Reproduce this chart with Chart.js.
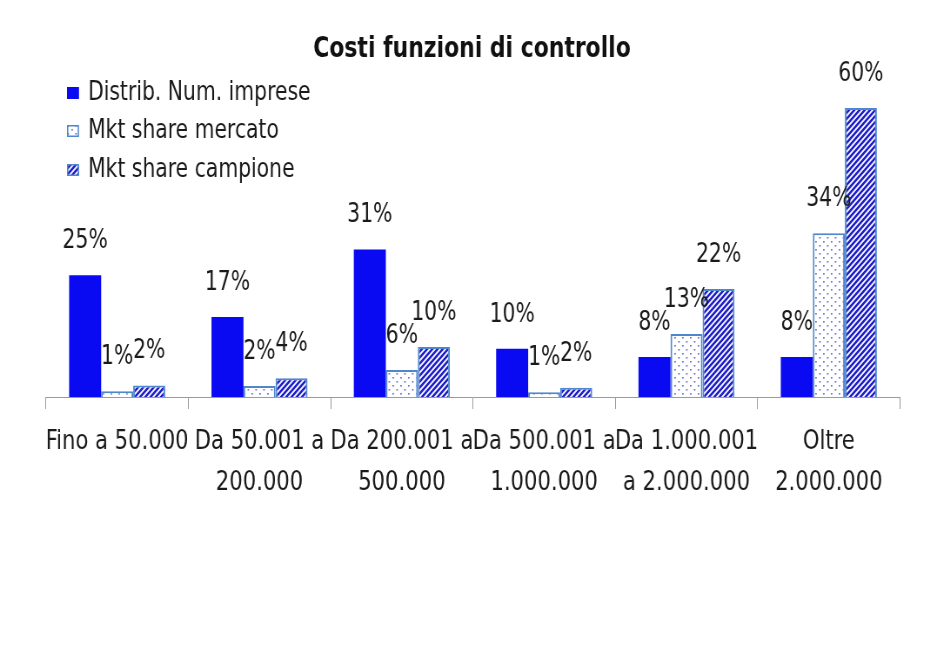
<!DOCTYPE html>
<html><head><meta charset="utf-8">
<script src="https://cdn.jsdelivr.net/npm/chart.js@4.4.1/dist/chart.umd.min.js"></script>
<style>html,body{margin:0;padding:0;background:#fff;overflow:hidden;}#wrap{width:944px;height:647px;position:relative;overflow:hidden;}
#c{position:absolute;left:0;top:0;transform:scaleX(0.87);transform-origin:0 0;}</style>
</head><body><div id="wrap"><canvas id="c" width="1085" height="647"></canvas></div>
<script>
const categories = [["Fino a 50.000"],["Da 50.001 a","200.000"],["Da 200.001 a","500.000"],["Da 500.001 a","1.000.000"],["Da 1.000.001","a 2.000.000"],["Oltre","2.000.000"]];
const seriesNames = ["Distrib. Num. imprese","Mkt share mercato","Mkt share campione"];
const distribImprese = [25.3, 16.6, 30.6, 10.0, 8.3, 8.3];
const shareMercato = [1.2, 2.3, 5.6, 1.0, 13.1, 34.0];
const shareCampione = [2.4, 3.9, 10.4, 1.9, 22.4, 60.0];
const valueLabels = [["25%","17%","31%","10%","8%","8%"],["1%","2%","6%","1%","13%","34%"],["2%","4%","10%","2%","22%","60%"]];
const yTicks = [0, 60];

const K = 0.87; // horizontal condensing of the drawing (narrow font look)
const FONT = "'DejaVu Sans Condensed','DejaVu Sans',sans-serif";

function dotPattern(){
  const c=document.createElement('canvas');c.width=9;c.height=8;const x=c.getContext('2d');
  x.fillStyle='#ffffff';x.fillRect(0,0,9,8);
  x.fillStyle='#7070dd';
  x.fillRect(1,1,1.8,1.6);x.fillRect(5.5,5,1.8,1.6);
  return x.createPattern(c,'repeat');
}
function stripePattern(){
  const s=6;const c=document.createElement('canvas');c.width=s;c.height=s;const x=c.getContext('2d');
  x.fillStyle='#ffffff';x.fillRect(0,0,s,s);
  x.strokeStyle='#2020cc';x.lineWidth=2.5;
  x.beginPath();
  x.moveTo(-s,s*2);x.lineTo(s*2,-s);
  x.moveTo(-s,s);x.lineTo(s,-s);
  x.moveTo(0,s*2);x.lineTo(s*2,0);
  x.stroke();
  return x.createPattern(c,'repeat');
}
const fills=['#0a0af2',dotPattern(),stripePattern()];
const borders=['#0a0af2','#4f86cc','#4f86cc'];

const overlay={
  id:'overlay',
  afterDatasetsDraw(chart){
    const ctx=chart.ctx;ctx.save();
    ctx.fillStyle='#1a1a1a';ctx.textAlign='center';ctx.textBaseline='middle';
    ctx.font="26px "+FONT;
    chart.data.datasets.forEach((ds,i)=>{
      chart.getDatasetMeta(i).data.forEach((bar,j)=>{
        ctx.fillText(valueLabels[i][j],bar.x,bar.y-34);
      });
    });
    ctx.restore();
  },
  afterDraw(chart){
    const ctx=chart.ctx;ctx.save();
    ctx.fillStyle='#111';ctx.textAlign='center';ctx.textBaseline='middle';
    ctx.font="bold 28px "+FONT;
    ctx.fillText("Costi funzioni di controllo",472/K,50);
    ctx.font="26px "+FONT;ctx.textAlign='left';
    const ys=[93,131,170];
    const sx=67/K, sw=12/K;
    seriesNames.forEach((n,i)=>{
      ctx.fillStyle=fills[i];ctx.fillRect(sx,ys[i]-6,sw,12);
      if(i>0){ctx.strokeStyle=borders[i];ctx.lineWidth=1.5;ctx.strokeRect(sx+0.75,ys[i]-5.25,sw-1.5,10.5);}
      ctx.fillStyle='#1a1a1a';ctx.fillText(n,88/K,ys[i]);
    });
    ctx.restore();
  }
};

const data=[distribImprese,shareMercato,shareCampione];
new Chart(document.getElementById('c'),{
  type:'bar',
  data:{labels:categories,datasets:seriesNames.map((n,i)=>({label:n,data:data[i],backgroundColor:fills[i],borderColor:borders[i],borderWidth:i===0?0:2,borderSkipped:'bottom',categoryPercentage:0.675,barPercentage:1}))},
  options:{
    responsive:false,animation:false,devicePixelRatio:1,
    layout:{padding:{left:46/K,right:1085-900/K,top:108,bottom:0}},
    plugins:{legend:{display:false},title:{display:false},tooltip:{enabled:false}},
    scales:{
      x:{
        grid:{display:true,drawOnChartArea:false,drawTicks:true,tickLength:12,color:'#9a9a9a',offset:true},
        border:{display:true,color:'#9a9a9a',width:1},
        ticks:{color:'#1a1a1a',font:{family:FONT,size:27,lineHeight:1.52},padding:12,maxRotation:0,autoSkip:false},
        afterFit(s){s.height=250;}
      },
      y:{display:false,min:yTicks[0],max:yTicks[1]}
    }
  },
  plugins:[overlay]
});
</script></body></html>
